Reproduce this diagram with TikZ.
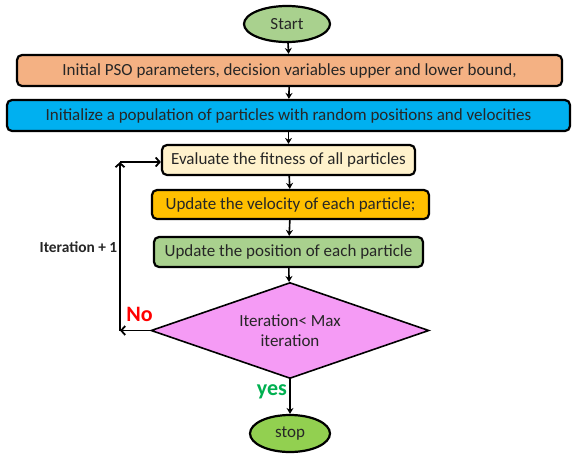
\documentclass[tikz,border=0pt]{standalone}
\usepackage{fontspec}
\setmainfont{Carlito}
\usetikzlibrary{shapes.geometric,arrows.meta}
\definecolor{cstart}{HTML}{A9D18E}
\definecolor{cinit}{HTML}{F4B183}
\definecolor{cpop}{HTML}{00B0F0}
\definecolor{ceval}{HTML}{FFF2CC}
\definecolor{cvel}{HTML}{FFC000}
\definecolor{cpos}{HTML}{A9D18E}
\definecolor{cdec}{HTML}{F59BF5}
\definecolor{cstop}{HTML}{92D050}
\definecolor{cyes}{HTML}{00B050}
\definecolor{ctext}{HTML}{262626}
\tikzset{
  boxnode/.style={draw=black, line width=2.2pt, rounded corners=5pt, inner sep=0pt, text=ctext, font=\fontsize{17}{20}\selectfont},
  termnode/.style={draw=black, line width=2.2pt, ellipse, inner sep=0pt, text=ctext, font=\fontsize{17}{20}\selectfont},
  decnode/.style={draw=black, line width=1.6pt, diamond, shape aspect=2.9, inner sep=0pt, align=center, text=ctext, font=\fontsize{17}{20}\selectfont},
  conn/.style={line width=1.6pt, -{Stealth[length=6pt,width=7pt]}},
  loopconn/.style={line width=1.8pt, -{Straight Barb[length=4pt,width=9pt]}},
}
\begin{document}
\begin{tikzpicture}[x=1pt,y=-1pt]
\useasboundingbox (0,0) rectangle (581,458);
\node[termnode, fill=cstart, minimum width=86pt, minimum height=36pt] (start) at (287,24) {Start};
\node[boxnode, fill=cinit, minimum width=545pt, minimum height=31pt] (init) at (289.5,70.5) {Initial PSO parameters, decision variables upper and lower bound,};
\node[boxnode, fill=cpop, minimum width=563pt, minimum height=31pt] (pop) at (288.5,115.5) {Initialize a population of particles with random positions and velocities};
\node[boxnode, fill=ceval, minimum width=253pt, minimum height=30pt] (eval) at (288.5,160) {Evaluate the fitness of all particles};
\node[boxnode, fill=cvel, minimum width=277pt, minimum height=29pt] (vel) at (290.5,204.5) {Update the velocity of each particle;};
\node[boxnode, fill=cpos, minimum width=269pt, minimum height=30pt] (pos) at (288.5,252) {Update the position of each particle};
\node[decnode, fill=cdec, minimum width=278pt, minimum height=96pt] (dec) at (290,330.5) {Iteration< Max\\iteration};
\node[termnode, fill=cstop, minimum width=80pt, minimum height=37pt] (stop) at (290,433.5) {stop};
\coordinate (c1) at (120,330.5);
\coordinate (c2) at (120,162);
\draw[conn] (start) -- (init);
\draw[conn] (init) -- (pop);
\draw[conn] (pop) -- (eval);
\draw[conn] (eval) -- (vel);
\draw[conn] (vel) -- (pos);
\draw[conn] (pos) -- (dec);
\draw[conn] (dec) -- (stop);
\draw[loopconn] (dec.west) -- (c1);
\draw[loopconn] (c1) -- (c2);
\draw[loopconn] (c2) -- (c2 -| eval.west);
\node[font=\bfseries\fontsize{15.4}{18}\selectfont, text=ctext] (itlab) at (78.5,247) {Iteration + 1};
\node[font=\bfseries\fontsize{22}{24}\selectfont, text=red] (nolab) at (139.5,314.5) {No};
\node[font=\bfseries\fontsize{22}{24}\selectfont, text=cyes] (yeslab) at (272,392) {yes};
\end{tikzpicture}
\end{document}
